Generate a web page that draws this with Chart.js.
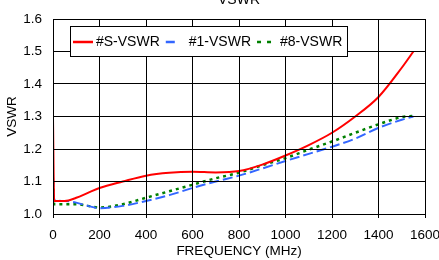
<!DOCTYPE html>
<html>
<head>
<meta charset="utf-8">
<script src="https://cdn.jsdelivr.net/npm/chart.js@4.4.1/dist/chart.umd.min.js"></script>
<style>
  html, body { margin: 0; padding: 0; background: #fff; }
  #wrap { position: relative; width: 439px; height: 260px; }
  #grid { position: absolute; left: 0; top: 0; pointer-events: none; }
</style>
</head>
<body>
<div id="wrap">
  <canvas id="chart" width="439" height="260"></canvas>
  <svg id="grid" width="439" height="260"></svg>
</div>
<script>
// values
const chartTitle = 'VSWR';
const freqMHz = [0, 5, 50, 100, 150, 200, 300, 400, 500, 600, 700, 800, 900, 1000, 1100, 1200, 1300, 1400, 1500, 1550];
const vswrS = [1.295, 1.04, 1.04, 1.05, 1.065, 1.08, 1.10, 1.118, 1.127, 1.13, 1.128, 1.132, 1.152, 1.18, 1.212, 1.25, 1.30, 1.36, 1.45, 1.50];
const vswr1 = [1.115, 1.045, 1.04, 1.035, 1.025, 1.018, 1.025, 1.04, 1.058, 1.08, 1.10, 1.118, 1.14, 1.163, 1.185, 1.207, 1.232, 1.265, 1.29, 1.30];
const vswr8 = [1.10, 1.03, 1.03, 1.03, 1.025, 1.02, 1.03, 1.05, 1.07, 1.09, 1.11, 1.127, 1.15, 1.172, 1.198, 1.223, 1.25, 1.276, 1.298, 1.302];
const seriesNames = ['#S-VSWR', '#1-VSWR', '#8-VSWR'];

const FONT = '"Liberation Sans", Arial, sans-serif';

function toPoints(ys) {
  return freqMHz.map((x, i) => ({ x, y: ys[i] }));
}

// sample dash used in the legend box (a bit different from the plotted dash)
const legendDash = [[], [9, 11], [4, 6]];
// legend frame
const LEG = { x: 70.5, y: 26.5, w: 277, h: 30 };

const crisp = (p) => Math.round(p - 0.5) + 0.5;

const extras = {
  id: 'extras',
  afterDraw(chart) {
    const { ctx, chartArea } = chart;
    ctx.save();
    ctx.fillStyle = '#000';
    ctx.font = `14px ${FONT}`;
    ctx.textAlign = 'center';
    ctx.textBaseline = 'alphabetic';
    ctx.fillText(chartTitle, (chartArea.left + chartArea.right) / 2, 3.5);

    ctx.fillStyle = '#fff';
    ctx.fillRect(LEG.x, LEG.y, LEG.w, LEG.h);
    ctx.strokeStyle = '#000';
    ctx.lineWidth = 1;
    ctx.strokeRect(LEG.x, LEG.y, LEG.w, LEG.h);

    let x = 73;
    const yMid = LEG.y + LEG.h / 2 + 0.5;
    ctx.textAlign = 'left';
    ctx.textBaseline = 'middle';
    chart.data.datasets.forEach((ds, i) => {
      ctx.strokeStyle = ds.borderColor;
      ctx.lineWidth = 2.5;
      ctx.setLineDash(legendDash[i]);
      ctx.beginPath();
      ctx.moveTo(x, yMid);
      ctx.lineTo(x + 20, yMid);
      ctx.stroke();
      ctx.setLineDash([]);
      x += 23;
      ctx.fillStyle = '#000';
      ctx.fillText(ds.label, x, yMid);
      x += ctx.measureText(ds.label).width + 6;
    });
    ctx.restore();
  },
};

const chart = new Chart(document.getElementById('chart'), {
  type: 'line',
  data: {
    datasets: [{
      label: seriesNames[0],
      data: toPoints(vswrS),
      borderColor: '#ff0000',
      borderWidth: 2,
      fill: false,
    }, {
      label: seriesNames[1],
      data: toPoints(vswr1),
      borderColor: '#3366ff',
      borderWidth: 2,
      borderDash: [10, 4],
      fill: false,
    }, {
      label: seriesNames[2],
      data: toPoints(vswr8),
      borderColor: '#008000',
      borderWidth: 2.5,
      borderDash: [3, 4],
      fill: false,
    }],
  },
  options: {
    responsive: false,
    animation: false,
    cubicInterpolationMode: 'monotone',
    elements: { point: { radius: 0 } },
    layout: { padding: { top: 19, right: 14, left: 0, bottom: 0 } },
    plugins: {
      legend: { display: false },
      title: { display: false },
      tooltip: { enabled: false },
    },
    scales: {
      x: {
        type: 'linear',
        min: 0,
        max: 1600,
        ticks: {
          stepSize: 200,
          color: '#000',
          font: { family: FONT, size: 13.5 },
          padding: 9,
          maxRotation: 0,
          callback: (v) => String(v),
        },
        grid: { color: '#000', lineWidth: 1, tickLength: 4 },
        border: { color: '#000', width: 1 },
        title: {
          display: true,
          text: 'FREQUENCY (MHz)',
          color: '#000',
          font: { family: FONT, size: 13.5 },
          padding: { top: 0, bottom: 1 },
        },
        afterFit(scale) {
          scale.height = 46;
          scale.paddingLeft = 0;
          scale.paddingRight = 0;
        },
      },
      y: {
        min: 1.0,
        max: 1.6,
        ticks: {
          stepSize: 0.1,
          color: '#000',
          font: { family: FONT, size: 13.5 },
          padding: 11,
          callback: (v) => v.toFixed(1),
        },
        grid: { color: '#000', lineWidth: 1, drawTicks: false },
        border: { color: '#000', width: 1 },
        title: {
          display: true,
          text: 'VSWR',
          color: '#000',
          font: { family: FONT, size: 13.5 },
          padding: { top: 4, bottom: 0 },
        },
        afterFit(scale) {
          scale.width = 53;
          scale.paddingTop = 0;
          scale.paddingBottom = 0;
        },
      },
    },
  },
  plugins: [extras],
});

// grid overlay built from the chart's own scales, skipping the legend frame
(function drawGrid() {
  const svg = document.getElementById('grid');
  const a = chart.chartArea;
  const sx = chart.scales.x;
  const sy = chart.scales.y;
  const segs = [];
  const legR = LEG.x + LEG.w;
  const legB = LEG.y + LEG.h;
  sx.ticks.forEach((t) => {
    const px = crisp(sx.getPixelForValue(t.value));
    if (px > LEG.x && px < legR) {
      segs.push([px, a.top, px, LEG.y]);
      segs.push([px, legB, px, a.bottom + 4]);
    } else {
      segs.push([px, a.top, px, a.bottom + 4]);
    }
  });
  sy.ticks.forEach((t) => {
    const py = crisp(sy.getPixelForValue(t.value));
    if (py > LEG.y && py < legB) {
      segs.push([a.left, py, LEG.x, py]);
      segs.push([legR, py, a.right, py]);
    } else {
      segs.push([a.left, py, a.right, py]);
    }
  });
  const ns = 'http://www.w3.org/2000/svg';
  segs.forEach(([x1, y1, x2, y2]) => {
    const ln = document.createElementNS(ns, 'line');
    ln.setAttribute('x1', x1);
    ln.setAttribute('y1', y1);
    ln.setAttribute('x2', x2);
    ln.setAttribute('y2', y2);
    ln.setAttribute('stroke', '#000');
    ln.setAttribute('stroke-width', '1');
    ln.setAttribute('shape-rendering', 'crispEdges');
    svg.appendChild(ln);
  });
}());
</script>
</body>
</html>
